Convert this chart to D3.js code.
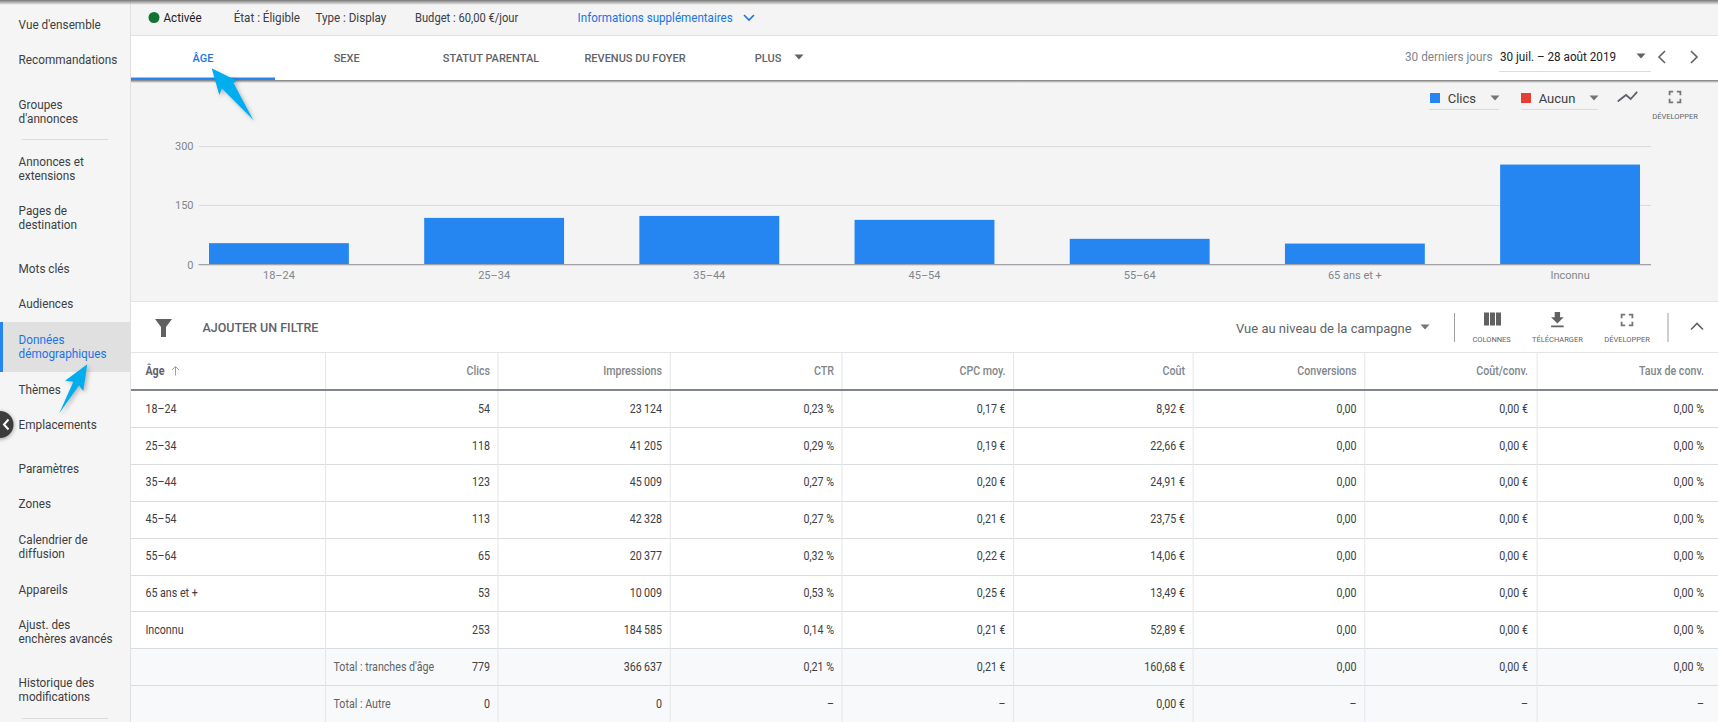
<!DOCTYPE html>
<html lang="fr">
<head>
  <meta charset="utf-8">
  <script src="https://d3js.org/d3.v7.min.js"></script>
  <style>
    html, body { margin: 0; background: #f4f4f4; overflow: hidden; }
    svg { display: block; }
    text { font-family: Roboto, sans-serif; font-size: 12px; fill: #3c4043; }
    .axis path, .axis line { shape-rendering: crispEdges; }
    .axis text { font-size: 11px; fill: #80868b; }
    .small { font-size: 7.5px; fill: #5f6368; text-anchor: middle; }
  </style>
</head>
<body>
  <script>
    // chart + table values
    const ageGroups = ["18\u201324", "25\u201334", "35\u201344", "45\u201354", "55\u201364", "65 ans et +", "Inconnu"];
    const clicks = [54, 118, 123, 113, 65, 53, 253];
    const impressions = [23124, 41205, 45009, 42328, 20377, 10009, 184585];
    const ctr = [0.23, 0.29, 0.27, 0.27, 0.32, 0.53, 0.14];
    const avgCpc = [0.17, 0.19, 0.20, 0.21, 0.22, 0.25, 0.21];
    const cost = [8.92, 22.66, 24.91, 23.75, 14.06, 13.49, 52.89];
    const conversions = [0, 0, 0, 0, 0, 0, 0];
    const costPerConv = [0, 0, 0, 0, 0, 0, 0];
    const convRate = [0, 0, 0, 0, 0, 0, 0];

    const totalLabels = ["Total : tranches d'\u00e2ge", "Total : Autre"];
    const totalClicks = [779, 0];
    const totalImpressions = [366637, 0];
    const totalCtr = [0.21, null];
    const totalCpc = [0.21, null];
    const totalCost = [160.68, 0];
    const totalConversions = [0, null];
    const totalCostPerConv = [0, null];
    const totalConvRate = [0, null];

    const yTicks = [0, 150, 300];

    const columnHeaders = ["Clics", "Impressions", "CTR", "CPC moy.", "Co\u00fbt", "Conversions", "Co\u00fbt/conv.", "Taux de conv."];

    const navItems = [
      { lines: ["Vue d'ensemble"], y: 24.7 },
      { lines: ["Recommandations"], y: 59.7 },
      { lines: ["Groupes", "d'annonces"], y: 104 },
      { lines: ["Annonces et", "extensions"], y: 161.7 },
      { lines: ["Pages de", "destination"], y: 210.7 },
      { lines: ["Mots cl\u00e9s"], y: 268.7 },
      { lines: ["Audiences"], y: 303.7 },
      { lines: ["Donn\u00e9es", "d\u00e9mographiques"], y: 339.7, active: true },
      { lines: ["Th\u00e8mes"], y: 389.7 },
      { lines: ["Emplacements"], y: 424.7 },
      { lines: ["Param\u00e8tres"], y: 468.7 },
      { lines: ["Zones"], y: 503.7 },
      { lines: ["Calendrier de", "diffusion"], y: 539.7 },
      { lines: ["Appareils"], y: 589.7 },
      { lines: ["Ajust. des", "ench\u00e8res avanc\u00e9s"], y: 624.7 },
      { lines: ["Historique des", "modifications"], y: 682.7 }
    ];

    const blue = "#1a73e8";
    const barColor = "#2585f1";
    const arrowColor = "#00aeef";
    const lineColor = "#dadce0";
    const grey = "#5f6368";

    const locale = d3.formatLocale({ decimal: ",", thousands: "\u2009", grouping: [3], currency: ["", " \u20ac"] });
    const fmtInt = locale.format(",d");
    const fmtDec = locale.format(",.2f");
    const dash = f => v => v === null ? "\u2013" : f(v);
    const fmtPct = dash(v => fmtDec(v) + "\u00a0%");
    const fmtEur = dash(v => fmtDec(v) + "\u00a0\u20ac");
    const fmtNum = dash(fmtDec);

    const svg = d3.select("body").append("svg").attr("width", 1718).attr("height", 722);

    const defs = svg.append("defs");
    const fade = defs.append("linearGradient").attr("id", "fade").attr("x1", 0).attr("x2", 0).attr("y1", 0).attr("y2", 1);
    fade.append("stop").attr("offset", 0).attr("stop-color", "#777");
    fade.append("stop").attr("offset", 1).attr("stop-color", "#777").attr("stop-opacity", 0);

    // opts.sx squeezes the text sideways, the screenshot's hinted text runs narrower than Roboto here
    function label(g, x, y, str, opts) {
      opts = opts || {};
      return g.append("text")
        .attr("transform", `translate(${x},${y}) scale(${opts.sx || 1},1)`)
        .attr("dy", "0.35em")
        .attr("text-anchor", opts.anchor || "start")
        .style("font-size", opts.size ? opts.size + "px" : null)
        .style("font-weight", opts.weight || null)
        .style("fill", opts.fill || null)
        .text(str);
    }
    function hline(g, x1, x2, y, color, w) {
      g.append("rect").attr("x", x1).attr("y", y).attr("width", x2 - x1).attr("height", w || 1).attr("fill", color);
    }
    function vline(g, x, y1, y2, color) {
      g.append("rect").attr("x", x).attr("y", y1).attr("width", 1).attr("height", y2 - y1).attr("fill", color);
    }
    function caret(g, cx, cy, color) {
      g.append("path").attr("d", `M${cx - 4.5},${cy - 2.5}h9l-4.5,5z`).attr("fill", color || "#757575");
    }
    function icon(g, d, cx, cy, scale, color) {
      const s = scale || 1;
      g.append("path").attr("d", d)
        .attr("transform", `translate(${cx - 12 * s},${cy - 12 * s}) scale(${s})`)
        .attr("fill", color || "#616161");
    }
    const iconFull = "M7 14H5v5h5v-2H7v-3zm-2-4h2V7h3V5H5v5zm12 7h-3v2h5v-5h-2v3zM14 5v2h3v3h2V5h-5z";
    const iconColumns = "M10 18h5V5h-5v13zm-6 0h5V5H4v13zM16 5v13h5V5h-5z";
    const iconDownload = "M19 9h-4V3H9v6H5l7 7 7-7zM5 18v2h14v-2H5z";

    // --- status bar
    const status = svg.append("g");
    status.append("circle").attr("cx", 154).attr("cy", 17.5).attr("r", 5.5).attr("fill", "#137333");
    label(status, 163.5, 17.5, "Activ\u00e9e", { size: 12, sx: 0.97, fill: "#202124" });
    label(status, 233.7, 17.5, "\u00c9tat : \u00c9ligible", { size: 12, sx: 0.97 });
    label(status, 315.4, 17.5, "Type : Display", { size: 12, sx: 0.97 });
    label(status, 415, 17.5, "Budget : 60,00 \u20ac/jour", { size: 12, sx: 0.93 });
    label(status, 577.6, 17.5, "Informations suppl\u00e9mentaires", { size: 12, sx: 0.967, fill: blue });
    status.append("path").attr("d", "M744,15l5,5l5,-5").attr("fill", "none").attr("stroke", blue).attr("stroke-width", 1.6);
    hline(status, 130, 1718, 35, "#e0e0e0");

    // --- tabs
    const tabs = svg.append("g");
    tabs.append("rect").attr("x", 130).attr("y", 36).attr("width", 1588).attr("height", 44).attr("fill", "#fff");
    [["\u00c2GE", 203, blue], ["SEXE", 346.7, grey], ["STATUT PARENTAL", 491, grey], ["REVENUS DU FOYER", 635, grey], ["PLUS", 768, grey]]
      .forEach(t => label(tabs, t[1], 58, t[0], { anchor: "middle", size: 11, weight: 500, fill: t[2] }));
    caret(tabs, 799, 57, "#616161");
    tabs.append("rect").attr("x", 130).attr("y", 80).attr("width", 1588).attr("height", 3).attr("fill", "url(#fade)");
    tabs.append("rect").attr("x", 130).attr("y", 77.5).attr("width", 145).attr("height", 2.5).attr("fill", barColor);
    label(tabs, 1405, 56.7, "30 derniers jours", { size: 12, sx: 0.98, fill: "#80868b" });
    label(tabs, 1500, 56.7, "30 juil. \u2013 28 ao\u00fbt 2019", { size: 12, sx: 0.975, fill: "#202124" });
    hline(tabs, 1499, 1651, 71, lineColor);
    caret(tabs, 1641, 56, "#616161");
    tabs.append("path").attr("d", "M1665,51l-6,6l6,6M1691,51l6,6l-6,6").attr("fill", "none").attr("stroke", "#616161").attr("stroke-width", 1.6);

    // --- chart header controls
    const ctl = svg.append("g");
    ctl.append("rect").attr("x", 1430).attr("y", 93).attr("width", 10).attr("height", 10).attr("fill", barColor);
    label(ctl, 1447.7, 98.7, "Clics", { size: 13 });
    caret(ctl, 1495, 98);
    hline(ctl, 1429, 1499, 109, lineColor);
    ctl.append("rect").attr("x", 1521).attr("y", 93).attr("width", 10).attr("height", 10).attr("fill", "#e53e33");
    label(ctl, 1538.7, 98.7, "Aucun", { size: 13 });
    caret(ctl, 1594, 98);
    hline(ctl, 1521, 1598, 109, lineColor);
    // zigzag chart-type icon with round ends
    ctl.append("path").attr("d", "M1618.3,101L1626,95L1630.7,99L1636.7,92.3")
      .attr("fill", "none").attr("stroke", "#5f6368").attr("stroke-width", 1.8).attr("stroke-linecap", "round");
    icon(ctl, iconFull, 1675, 97, 0.9, "#757575");
    ctl.append("text").attr("class", "small").attr("x", 1675).attr("y", 116.7).attr("dy", "0.35em").text("D\u00c9VELOPPER");

    // --- bar chart
    const x = d3.scaleBand().domain(ageGroups).range([209, 1640]).paddingInner(0.35).paddingOuter(0);
    const y = d3.scaleLinear().domain([0, 300]).range([264.5, 146]);
    const plotLeft = 198.5, plotRight = 1651;

    const yAxis = d3.axisLeft(y).tickValues(yTicks).tickSize(plotLeft - plotRight).tickPadding(5);
    const gy = svg.append("g").attr("class", "axis").attr("transform", `translate(${plotLeft},0)`).call(yAxis);
    gy.select(".domain").remove();
    gy.selectAll("line").attr("x1", 0).attr("x2", plotRight - plotLeft).attr("stroke", "#dcdcdc");
    gy.selectAll("text").attr("x", -5);

    svg.selectAll(".bar")
      .data(clicks)
      .enter().append("rect")
      .attr("class", "bar")
      .attr("x", (d, i) => x(ageGroups[i]))
      .attr("y", d => y(d))
      .attr("width", x.bandwidth())
      .attr("height", d => y(0) - y(d))
      .attr("fill", barColor);

    const gx = svg.append("g").attr("class", "axis").attr("transform", "translate(0,264)")
      .call(d3.axisBottom(x).tickSize(0).tickPadding(7));
    gx.select(".domain").remove();
    hline(gx, plotLeft, plotRight, 0, "#a0a4a8");

    // --- filter bar
    const bar = svg.append("g");
    bar.append("rect").attr("x", 130).attr("y", 302).attr("width", 1588).attr("height", 50).attr("fill", "#fff");
    hline(bar, 130, 1718, 301, "#e4e4e4");
    hline(bar, 130, 1718, 352, "#e4e4e4");
    bar.append("path").attr("d", "M155,319h17l-6,8v10h-5v-10z").attr("fill", "#616161");
    label(bar, 202.4, 327.7, "AJOUTER UN FILTRE", { size: 12.5, weight: 500, fill: grey });
    label(bar, 1236, 328, "Vue au niveau de la campagne", { size: 13, fill: grey });
    caret(bar, 1425, 327);
    vline(bar, 1454, 313, 342, "#9e9e9e");
    vline(bar, 1667.5, 313, 342, "#9e9e9e");
    icon(bar, iconColumns, 1492, 319.5, 1);
    icon(bar, iconDownload, 1557.4, 320, 0.9);
    icon(bar, iconFull, 1627, 320, 0.9, "#757575");
    [["COLONNES", 1491.6], ["T\u00c9L\u00c9CHARGER", 1557.4], ["D\u00c9VELOPPER", 1627]].forEach(t => {
      bar.append("text").attr("class", "small").attr("x", t[1]).attr("y", 339.3).attr("dy", "0.35em").text(t[0]);
    });
    bar.append("path").attr("d", "M1691,329.5l6,-6l6,6").attr("fill", "none").attr("stroke", "#616161").attr("stroke-width", 1.6);

    // --- table
    const table = svg.append("g");
    const rowY = d3.scaleLinear().domain([0, 1]).range([390, 426.9]);
    const colLines = [325, 497.5, 669.8, 841.5, 1013, 1192.6, 1364.3, 1536.6];
    const colRight = [490, 662, 834, 1005.6, 1185, 1356.6, 1528, 1704];
    const cellStyle = { size: 12, sx: 0.89 };

    const columns = [
      clicks.concat(totalClicks).map(fmtInt),
      impressions.concat(totalImpressions).map(fmtInt),
      ctr.concat(totalCtr).map(fmtPct),
      avgCpc.concat(totalCpc).map(fmtEur),
      cost.concat(totalCost).map(fmtEur),
      conversions.concat(totalConversions).map(fmtNum),
      costPerConv.concat(totalCostPerConv).map(fmtEur),
      convRate.concat(totalConvRate).map(fmtPct)
    ];
    const rowCount = ageGroups.length + totalLabels.length;

    table.append("rect").attr("x", 130).attr("y", 353).attr("width", 1588).attr("height", 369).attr("fill", "#fff");
    table.append("rect").attr("x", 130).attr("y", rowY(ageGroups.length)).attr("width", 1588).attr("height", 722 - rowY(ageGroups.length)).attr("fill", "#f8f9fa");

    d3.range(1, rowCount).forEach(i => hline(table, 130, 1718, Math.round(rowY(i)), lineColor));
    colLines.forEach(cx => vline(table, cx, 353, 722, "#e4e6e8"));
    hline(table, 130, 1718, 389, "#80868b", 2);

    label(table, 145.4, 371, "\u00c2ge", { ...cellStyle, weight: 700, fill: grey });
    table.append("path").attr("d", "M175.5,366.5v9M172,370l3.5,-3.5l3.5,3.5").attr("fill", "none").attr("stroke", "#9aa0a6");
    columnHeaders.forEach((h, c) => label(table, colRight[c], 371, h, { ...cellStyle, anchor: "end", weight: 500, fill: "#80868b" }));

    ageGroups.forEach((a, r) => label(table, 145.4, rowY(r + 0.5), a, cellStyle));
    totalLabels.forEach((t, r) => label(table, 333.5, rowY(ageGroups.length + r + 0.5), t, { ...cellStyle, fill: grey }));
    columns.forEach((vals, c) => {
      vals.forEach((v, r) => label(table, colRight[c], rowY(r + 0.5), v, { ...cellStyle, anchor: "end" }));
    });

    // --- sidebar
    const nav = svg.append("g");
    nav.append("rect").attr("x", 0).attr("y", 0).attr("width", 130).attr("height", 722).attr("fill", "#f5f5f5");
    vline(nav, 130, 0, 722, "#e0e0e0");
    nav.append("rect").attr("x", 0).attr("y", 322).attr("width", 130).attr("height", 50).attr("fill", "#e0e0e0");
    nav.append("rect").attr("x", 0).attr("y", 322).attr("width", 3).attr("height", 50).attr("fill", barColor);
    hline(nav, 22, 108, 139, "#dcdcdc");
    hline(nav, 22, 108, 718, "#dcdcdc");
    navItems.forEach(item => {
      item.lines.forEach((line, i) => {
        label(nav, 18.6, item.y + i * 14, line, { size: 13, sx: 0.905, fill: item.active ? blue : "#3c4043" });
      });
    });

    // collapse button
    const collapse = svg.append("g").style("filter", "drop-shadow(0 1px 2px rgba(0,0,0,.4))");
    collapse.append("circle").attr("cx", 0).attr("cy", 424.5).attr("r", 13.5).attr("fill", "#3c3c3c");
    collapse.append("path").attr("d", "M8.5,419.5l-4.5,5l4.5,5").attr("fill", "none").attr("stroke", "#fff").attr("stroke-width", 2);

    // top shadow
    svg.append("rect").attr("x", 0).attr("y", 0).attr("width", 1718).attr("height", 5).attr("fill", "url(#fade)");

    // --- callout arrows
    const arrows = svg.append("g").style("filter", "drop-shadow(2px 2px 2px rgba(0,0,0,.25))");
    arrows.append("path").attr("fill", arrowColor)
      .attr("d", "M211.7,68.3L236.7,80.7L233.5,83L253.3,120L222,88.5L219.3,95Z");
    arrows.append("path").attr("fill", arrowColor)
      .attr("d", "M87.3,364.3L83.3,391L79,385.5L59.3,413.3L73.3,381.7L65,380.7Z");
  </script>
</body>
</html>
